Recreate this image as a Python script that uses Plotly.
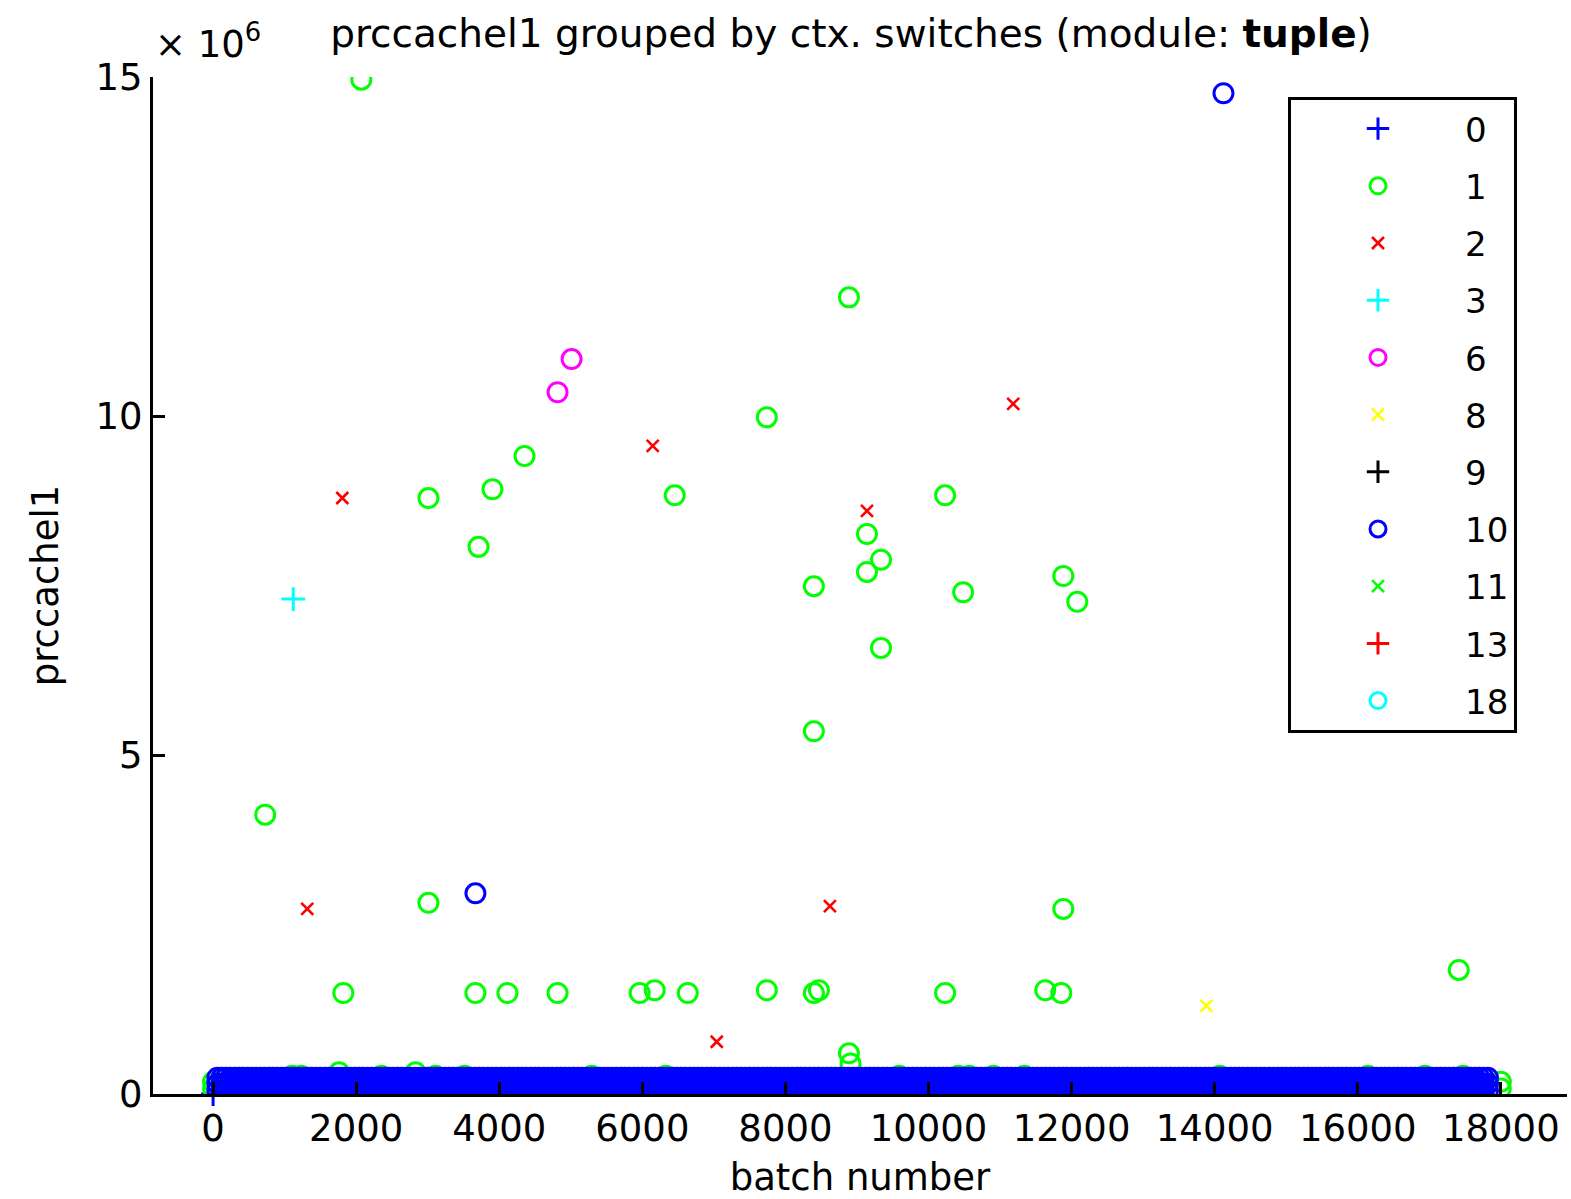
import numpy as np
import plotly.graph_objects as go

# ---- data ----
groups = ["0", "1", "2", "3", "6", "8", "9", "10", "11", "13", "18"]

g0_x = [0]
g0_y = [0.0]

g1_x = [2072, 728, 1820, 1760, 2830, 3010, 3010, 3710, 3905, 4353, 3667, 4115, 4815,
        5963, 6173, 6635, 6453, 7740, 7740, 8398, 8398, 8398, 8468, 8888, 8888, 8910,
        9140, 9140, 9336, 9336, 10232, 10232, 10484, 11632, 11856, 11884, 11884, 12080, 17412,
        0, 0, 18000, 18000,
        1106, 1232, 2352, 3108, 3514, 5292, 6328, 9590, 10416, 10570, 10906, 11340,
        14070, 16142, 16940, 17472]
g1_y = [14.96e6, 4.12e6, 1.49e6, 0.32e6, 0.32e6, 8.79e6, 2.82e6, 8.07e6, 8.92e6, 9.41e6,
        1.49e6, 1.49e6, 1.49e6, 1.49e6, 1.53e6, 1.49e6, 8.83e6, 9.98e6, 1.53e6, 7.49e6,
        5.35e6, 1.49e6, 1.53e6, 11.75e6, 0.60e6, 0.45e6, 8.26e6, 7.70e6, 7.88e6, 6.58e6,
        8.83e6, 1.49e6, 7.40e6, 1.53e6, 1.49e6, 7.64e6, 2.73e6, 7.26e6, 1.83e6,
        0.08e6, 0.18e6, 0.08e6, 0.18e6,
        0.27e6, 0.27e6, 0.27e6, 0.27e6, 0.27e6, 0.27e6, 0.27e6, 0.27e6, 0.27e6, 0.27e6,
        0.27e6, 0.27e6, 0.27e6, 0.27e6, 0.27e6, 0.27e6]

g2_x = [1806, 1316, 6145, 7040, 8622, 9140, 11184, 15383]
g2_y = [8.79e6, 2.73e6, 9.56e6, 0.77e6, 2.77e6, 8.60e6, 10.18e6, 0.30e6]

g3_x = [1120]
g3_y = [7.30e6]

g6_x = [4815, 5011]
g6_y = [10.35e6, 10.84e6]

g8_x = [13885]
g8_y = [1.30e6]

g9_x = [9000]
g9_y = [0.10e6]

g10_x = [3667, 14123]
g10_y = [2.96e6, 14.76e6]
# dense, over-plotted band of group 10 near the bottom of the axes
band_x = np.arange(60, 17821, 60)
band_levels = [0.05e6, 0.15e6, 0.24e6]

g11_x = [5000, 12500]
g11_y = [0.10e6, 0.15e6]

g13_x = [16000]
g13_y = [0.10e6]

g18_x = [7000]
g18_y = [0.10e6]

x_ticks = [0, 2000, 4000, 6000, 8000, 10000, 12000, 14000, 16000, 18000]
y_ticks = [0, 5e6, 10e6, 15e6]
y_ticktext = ["0", "5", "10", "15"]

# ---- styling ----
BLUE, GREEN, RED, CYAN, MAG, YEL, BLK = "#0000FF", "#00FF00", "#FF0000", "#00FFFF", "#FF00FF", "#FFFF00", "#000000"
FONT = "DejaVu Sans"

def sym_style(symbol, color):
    if symbol == "o":
        return dict(symbol="circle-open", size=19, color=color, line=dict(color=color, width=3))
    if symbol == "+":
        return dict(symbol="cross-thin-open", size=17, color=color, line=dict(color=color, width=3))
    return dict(symbol="x-thin-open", size=12, color=color, line=dict(color=color, width=2.6))

band_xx = np.concatenate([band_x for _ in band_levels])
band_yy = np.concatenate([np.full(len(band_x), lv) for lv in band_levels])

series = [
    # (name, x, y, symbol, color, legendrank)  -- drawing order
    ("0", g0_x, g0_y, "+", BLUE, 1),
    ("1", g1_x, g1_y, "o", GREEN, 2),
    ("2", g2_x, g2_y, "x", RED, 3),
    ("3", g3_x, g3_y, "+", CYAN, 4),
    ("6", g6_x, g6_y, "o", MAG, 5),
    ("8", g8_x, g8_y, "x", YEL, 6),
    ("9", g9_x, g9_y, "+", BLK, 7),
    ("11", g11_x, g11_y, "x", GREEN, 9),
    ("13", g13_x, g13_y, "+", RED, 10),
    ("18", g18_x, g18_y, "o", CYAN, 11),
    ("10", list(g10_x) + list(band_xx), list(g10_y) + list(band_yy), "o", BLUE, 8),
]

fig = go.Figure()
for name, xs, ys, sym, col, rank in series:
    fig.add_trace(go.Scatter(
        x=xs, y=ys, mode="markers", name=name,
        marker=sym_style(sym, col),
        legendrank=rank, legendgroup=name,
        cliponaxis=(name != "0"),
        showlegend=True,
    ))

fig.update_layout(
    width=1571, height=1199,
    margin=dict(l=153, r=4, t=77, b=105),
    paper_bgcolor="white", plot_bgcolor="white",
    font=dict(family=FONT, size=37, color="black"),
    title=dict(
        text="prccachel1 grouped by ctx. switches (module: <b>tuple</b>)",
        x=(851 - 153) / 1414, xref="paper", xanchor="center",
        y=1 - 33 / 1199, yref="container", yanchor="middle",
        font=dict(family=FONT, size=39, color="black"),
    ),
    showlegend=True,
    legend=dict(
        x=(1288 - 153) / 1414, xanchor="left",
        y=1 - (97 - 77) / 1017, yanchor="top",
        bgcolor="white", bordercolor="black", borderwidth=3,
        font=dict(family=FONT, size=34, color="black"),
        itemwidth=164, tracegroupgap=10,
        traceorder="grouped",
    ),
)

fig.update_xaxes(
    range=[-840, 18925], tickvals=x_ticks, ticktext=[str(v) for v in x_ticks],
    showgrid=False, zeroline=False, showline=True, linecolor="black", linewidth=3,
    ticks="inside", ticklen=12, tickwidth=3, tickcolor="black",
    tickfont=dict(family=FONT, size=37),
    title=dict(text="batch number", font=dict(family=FONT, size=37), standoff=18),
)
fig.update_yaxes(
    range=[0, 15e6], tickvals=y_ticks, ticktext=y_ticktext,
    showgrid=False, zeroline=False, showline=True, linecolor="black", linewidth=3,
    ticks="inside", ticklen=12, tickwidth=3, tickcolor="black",
    tickfont=dict(family=FONT, size=37),
    title=dict(text="prccachel1", font=dict(family=FONT, size=37), standoff=26),
)

fig.add_annotation(
    text="× 10<sup>6</sup>", xref="paper", yref="paper",
    x=0, xanchor="left", y=1 + (77 - 42) / 1017, yanchor="middle",
    showarrow=False, font=dict(family=FONT, size=37, color="black"),
)

fig.write_html("out.html")
